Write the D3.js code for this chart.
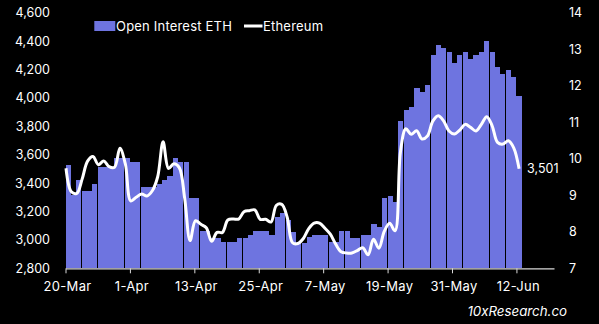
<!DOCTYPE html>
<html><head><meta charset="utf-8">
<script src="https://cdn.jsdelivr.net/npm/d3@7"></script>
<style>
body{margin:0;background:#000}
svg{display:block;background:#000}
text{font-family:Inter,"Open Sans",sans-serif}
</style></head>
<body><svg id="c" width="599" height="324"></svg>
<script>
// ---- data ----
const firstDay = "2024-03-20";
const lastDay = "2024-06-12";
const seriesNames = ["Open Interest ETH", "Ethereum"];
// open interest (right axis)
const openInterest = [
  9.83, 9.01, 9.42, 9.12, 9.12, 9.30, 9.78, 9.78, 9.78, 10.01,
  10.01, 10.01, 9.90, 9.90, 9.22, 9.22, 9.22, 9.30, 9.42, 9.53,
  10.01, 9.90, 9.90, 8.92, 8.92, 8.02, 8.02, 7.82, 7.82, 7.71,
  7.71, 7.71, 7.82, 7.82, 7.91, 8.02, 8.02, 8.02, 7.91, 8.40,
  8.51, 8.32, 8.00, 7.70, 7.70, 7.85, 7.91, 7.91, 7.91, 7.73,
  7.73, 8.02, 8.02, 7.82, 7.82, 7.91, 7.91, 8.21, 8.12, 8.92,
  8.99, 8.81, 11.04, 11.34, 11.43, 11.93, 11.82, 12.02, 12.84, 13.12,
  13.03, 12.92, 12.62, 12.84, 12.92, 12.73, 12.84, 12.92, 13.23, 12.92,
  12.52, 12.32, 12.43, 12.23, 11.72
];
// ETH price (left axis)
const ethPrice = [
  3505, 3339, 3328, 3430, 3555, 3588, 3530, 3556, 3516, 3512,
  3645, 3535, 3275, 3300, 3323, 3309, 3346, 3445, 3691, 3504,
  3536, 3509, 3293, 2995, 3135, 3110, 3086, 2990, 3053, 3053,
  3140, 3147, 3147, 3199, 3206, 3212, 3145, 3145, 3126, 3244,
  3250, 3160, 2980, 2975, 3010, 3080, 3119, 3119, 3082, 3040,
  2970, 2917, 2908, 2908, 2925, 2945, 2895, 3005, 2941, 3060,
  3117, 3064, 3620, 3783, 3744, 3769, 3711, 3732, 3837, 3875,
  3839, 3767, 3746, 3774, 3814, 3793, 3767, 3814, 3868, 3804,
  3687, 3675, 3699, 3649, 3501
];
const leftTicks = [2800, 3000, 3200, 3400, 3600, 3800, 4000, 4200, 4400, 4600];
const rightTicks = [7, 8, 9, 10, 11, 12, 13, 14];
const xTickDates = ["2024-03-20","2024-04-01","2024-04-13","2024-04-25","2024-05-07","2024-05-19","2024-05-31","2024-06-12"];
const xTickLabels = ["20-Mar","1-Apr","13-Apr","25-Apr","7-May","19-May","31-May","12-Jun"];
const lastLabel = "3,501";
const watermark = "10xResearch.co";

// ---- layout ----
const parse = d3.utcParse("%Y-%m-%d");
const days = d3.utcDay.range(parse(firstDay), d3.utcDay.offset(parse(lastDay), 1));
const plotTop = 12.8, plotBottom = 268.3, plotLeft = 65.5, axisRight = 554;
const axisEnd = d3.utcDay.offset(parse(firstDay), 91);

const x = d3.scaleUtc().domain([parse(firstDay), axisEnd]).range([plotLeft, axisRight]);
const yL = d3.scaleLinear().domain([2800, 4600]).range([plotBottom, plotTop]);
const yR = d3.scaleLinear().domain([7, 14]).range([plotBottom, plotTop]);
const step = x(days[1]) - x(days[0]);
const xLine = d3.scalePoint().domain(days.map(d => +d)).range([x(days[0]) + 0.5, x(days[days.length-1]) + step/2]);

const svg = d3.select("#c");
const barColor = "#6e74e0";
const fs = 12.5;

// bars
svg.append("g").selectAll("rect").data(days).join("rect")
  .attr("x", d => x(d))
  .attr("width", step - 0.25)
  .attr("y", (d,i) => yR(openInterest[i]))
  .attr("height", (d,i) => plotBottom - yR(openInterest[i]))
  .attr("fill", barColor)
  .attr("shape-rendering", "crispEdges");

// line
const line = d3.line()
  .x((d,i) => xLine(+days[i]))
  .y(d => yL(d))
  .curve(d3.curveCatmullRom.alpha(0.5));
svg.append("path").datum(ethPrice)
  .attr("d", line)
  .attr("fill", "none")
  .attr("stroke", "#fff")
  .attr("stroke-width", 3)
  .attr("stroke-linejoin", "round");

// x axis
const xAxis = d3.axisBottom(x)
  .tickValues(xTickDates.map(parse))
  .tickFormat((d,i) => xTickLabels[i])
  .tickSize(5).tickSizeOuter(0).tickPadding(8);
const gx = svg.append("g").attr("transform", `translate(0,${plotBottom})`).call(xAxis);
gx.select(".domain").attr("stroke", "#d9d9d9").attr("stroke-width", 1.2);
gx.selectAll(".tick line").attr("stroke", "#d9d9d9");
gx.selectAll(".tick text").attr("fill", "#fff").attr("font-size", 13)
  .attr("letter-spacing", 0.3).attr("dy", "0.71em").attr("dx", 1.5);

// left axis
const gl = svg.append("g").attr("transform", `translate(50,0)`)
  .call(d3.axisLeft(yL).tickValues(leftTicks).tickFormat(d3.format(",")).tickSize(0).tickPadding(0));
gl.select(".domain").remove();
gl.selectAll("text").attr("fill", "#fff").attr("font-size", fs);

// right axis
const gr = svg.append("g").attr("transform", `translate(569,0)`)
  .call(d3.axisRight(yR).tickValues(rightTicks).tickFormat(d3.format("d")).tickSize(0).tickPadding(0));
gr.select(".domain").remove();
gr.selectAll("text").attr("fill", "#fff").attr("font-size", fs);

// last value label
svg.append("text")
  .attr("x", xLine(+days[days.length-1]) + 8)
  .attr("y", yL(ethPrice[ethPrice.length-1]))
  .attr("dy", "0.35em")
  .attr("fill", "#fff").attr("font-size", fs)
  .text(lastLabel);

// legend
const lg = svg.append("g");
lg.append("rect").attr("x", 94.3).attr("y", 21).attr("width", 21).attr("height", 10).attr("fill", barColor);
lg.append("text").attr("x", 116).attr("y", 26).attr("dy", "0.35em").attr("fill", "#fff")
  .attr("font-size", 13).attr("letter-spacing", 0.2).text(seriesNames[0]);
lg.append("line").attr("x1", 244).attr("x2", 262.5).attr("y1", 26).attr("y2", 26).attr("stroke", "#fff").attr("stroke-width", 3);
lg.append("text").attr("x", 263).attr("y", 26).attr("dy", "0.35em").attr("fill", "#fff")
  .attr("font-size", 13).attr("letter-spacing", 0.2).text(seriesNames[1]);

// watermark
svg.append("text").attr("x", 567).attr("y", 311).attr("dy", "0.35em")
  .attr("text-anchor", "end").attr("fill", "#fff").attr("font-size", 13.3)
  .attr("font-style", "italic").text(watermark);
</script></body></html>
